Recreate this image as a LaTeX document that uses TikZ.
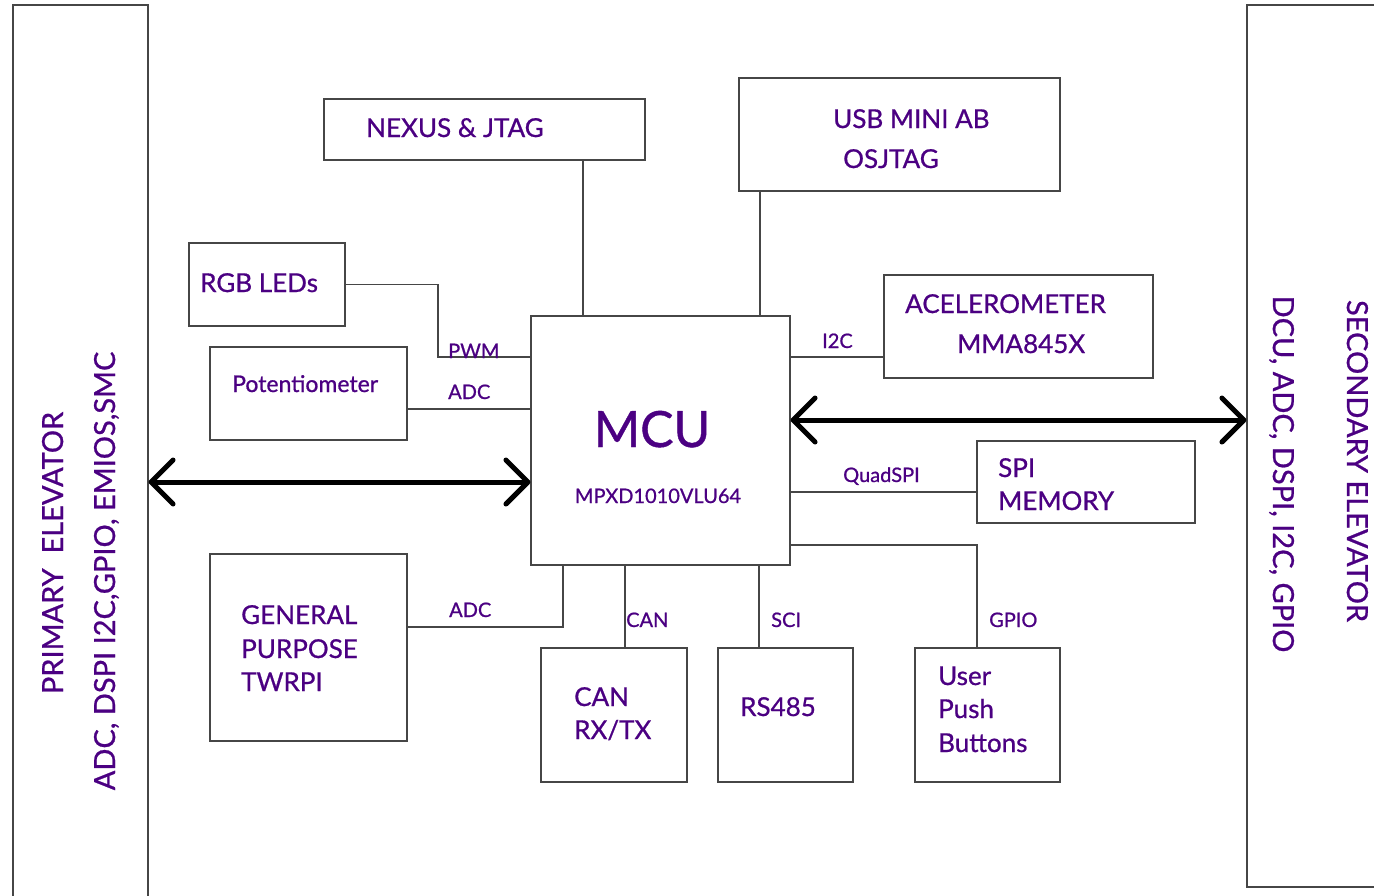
\documentclass[tikz,border=0pt]{standalone}
\usepackage{fontspec}
\setmainfont{Lato}[FakeBold=0.8,AutoFakeBold=0.8]
\usetikzlibrary{arrows.meta}
\definecolor{txt}{RGB}{75,0,130}
\definecolor{ln}{RGB}{70,70,70}
\begin{document}
\begin{tikzpicture}[x=1pt,y=-1pt,
  box/.style={draw=ln,line width=1.1pt,fill=white,inner sep=0pt},
  wire/.style={draw=ln,line width=1.1pt},
  bus/.style={line width=5pt,black,{Straight Barb[length=22pt,width=44pt,line cap=round,line join=round]}-{Straight Barb[length=22pt,width=44pt,line cap=round,line join=round]}},
  lbl/.style={text=txt,font=\fontsize{26}{30}\selectfont\bfseries,anchor=base west,inner sep=0pt},
  sml/.style={text=txt,font=\fontsize{20}{24}\selectfont\bfseries,anchor=base west,inner sep=0pt},
  elev/.style={text=txt,font=\fontsize{29}{34}\selectfont\bfseries,anchor=base,inner sep=0pt}]
\useasboundingbox (0,0) rectangle (1374,895);
\clip (0,0) rectangle (1374,895);
\fill[white] (0,0) rectangle (1374,895);
% elevators
\node[box,minimum width=135,minimum height=900] (lelev) at (80.5,455) {};
\node[box,minimum width=143,minimum height=882] (relev) at (1318.5,446) {};
\node[elev,rotate=90] (pe) at (63,553) {PRIMARY\ \ ELEVATOR};
\node[elev,rotate=90] (pesig) at (115,571) {ADC, DSPI I2C,GPIO, EMIOS,SMC};
\node[elev,rotate=-90] (se) at (1347,461) {SECONDARY ELEVATOR};
\node[elev,rotate=-90] (sesig) at (1273,474) {DCU, ADC, DSPI, I2C, GPIO};
% boxes
\node[box,minimum width=321,minimum height=61] (nexus) at (484.5,129.5) {};
\node[box,minimum width=321,minimum height=113] (usb) at (899.5,134.5) {};
\node[box,minimum width=156,minimum height=83] (rgb) at (267,284.5) {};
\node[box,minimum width=197,minimum height=93] (pot) at (308.5,393.5) {};
\node[box,minimum width=259,minimum height=249] (mcu) at (660.5,440.5) {};
\node[box,minimum width=269,minimum height=103] (acc) at (1018.5,326.5) {};
\node[box,minimum width=218,minimum height=82] (spi) at (1086,482) {};
\node[box,minimum width=197,minimum height=187] (gp) at (308.5,647.5) {};
\node[box,minimum width=146,minimum height=134] (can) at (614,715) {};
\node[box,minimum width=135,minimum height=134] (rs) at (785.5,715) {};
\node[box,minimum width=145,minimum height=134] (upb) at (987.5,715) {};
% box texts
\node[lbl] (tnexus) at (366,137) {NEXUS \& JTAG};
\node[lbl] (tusb1) at (833,128) {USB MINI AB};
\node[lbl] (tusb2) at (843,168) {OSJTAG};
\node[lbl] (trgb) at (200,292) {RGB LEDs};
\node[lbl,font=\fontsize{23}{27}\selectfont\bfseries] (tpot) at (232,392) {Potentiometer};
\node[text=txt,font=\fontsize{50}{56}\selectfont\bfseries,anchor=base,inner sep=0pt] (tmcu) at (652,447) {MCU};
\node[text=txt,font=\fontsize{20}{24}\selectfont\bfseries,anchor=base,inner sep=0pt] (tmpxd) at (658,503) {MPXD1010VLU64};
\node[lbl] (tacc1) at (905,313) {ACELEROMETER};
\node[lbl] (tacc2) at (957,353) {MMA845X};
\node[lbl] (tspi1) at (998,477) {SPI};
\node[lbl] (tspi2) at (998,510) {MEMORY};
\node[lbl] (tgp1) at (241,624) {GENERAL};
\node[lbl] (tgp2) at (241,658) {PURPOSE};
\node[lbl] (tgp3) at (241,691) {TWRPI};
\node[lbl] (tcan1) at (574,706) {CAN};
\node[lbl] (tcan2) at (574,739) {RX/TX};
\node[lbl] (trs) at (740,716) {RS485};
\node[lbl] (tupb1) at (938,685) {User};
\node[lbl] (tupb2) at (938,718) {Push};
\node[lbl] (tupb3) at (938,752) {Buttons};
% connector anchors
\coordinate (kn) at (583,0);
\coordinate (ku) at (760,0);
\coordinate (kpwm) at (438,357);
\coordinate (kadc) at (0,409);
\coordinate (ki2c) at (0,357);
\coordinate (kqspi) at (0,492);
\coordinate (kgpio) at (977,545);
\coordinate (kcan) at (625,0);
\coordinate (ksci) at (759,0);
\coordinate (kgpa) at (563,627);
\coordinate (ka) at (0,482);
\coordinate (kb) at (0,420);
% connectors
\draw[wire] (nexus.south -| kn) -- (mcu.north -| kn);
\draw[wire] (usb.south -| ku) -- (mcu.north -| ku);
\draw[wire] (rgb.east) -| (kpwm) -- (mcu.west |- kpwm);
\draw[wire] (pot.east |- kadc) -- (mcu.west |- kadc);
\draw[wire] (mcu.east |- ki2c) -- (acc.west |- ki2c);
\draw[wire] (mcu.east |- kqspi) -- (spi.west |- kqspi);
\draw[wire] (mcu.east |- kgpio) -| (upb.north -| kgpio);
\draw[wire] (mcu.south -| kcan) -- (can.north -| kcan);
\draw[wire] (mcu.south -| ksci) -- (rs.north -| ksci);
\draw[wire] (gp.east |- kgpa) -| (mcu.south -| kgpa);
% connector labels
\node[sml] (lpwm) at (448,358) {PWM};
\node[sml] (ladc1) at (448,399) {ADC};
\node[sml] (li2c) at (822,348) {I2C};
\node[sml] (lqspi) at (843,482) {QuadSPI};
\node[sml] (ladc2) at (449,617) {ADC};
\node[sml] (lcan) at (626,627) {CAN};
\node[sml] (lsci) at (771,627) {SCI};
\node[sml] (lgpio) at (989,627) {GPIO};
% buses
\draw[bus] (lelev.east |- ka) -- (mcu.west |- ka);
\draw[bus] (mcu.east |- kb) -- (relev.west |- kb);
\end{tikzpicture}
\end{document}
